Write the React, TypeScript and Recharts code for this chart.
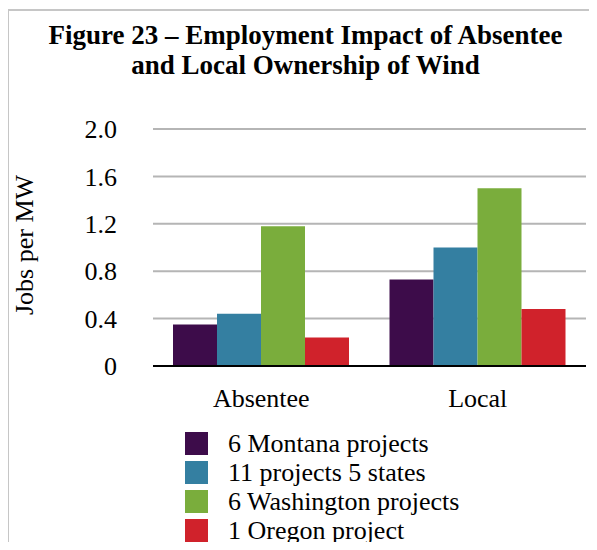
import { Bar, BarChart, CartesianGrid, Legend, XAxis, YAxis } from "recharts";

const categories = ["Absentee", "Local"];
const montana = [0.35, 0.73];
const fiveStates = [0.44, 1.0];
const washington = [1.18, 1.5];
const oregon = [0.24, 0.48];
const yTicks = [0, 0.4, 0.8, 1.2, 1.6, 2.0];

const series = [
  { key: "montana", name: "6 Montana projects", color: "#3d0c4a" },
  { key: "fiveStates", name: "11 projects 5 states", color: "#347fa1" },
  { key: "washington", name: "6 Washington projects", color: "#7aad3c" },
  { key: "oregon", name: "1 Oregon project", color: "#d0222b" },
];

const data = categories.map((c, i) => ({
  category: c,
  montana: montana[i],
  fiveStates: fiveStates[i],
  washington: washington[i],
  oregon: oregon[i],
}));

const FONT = '"Liberation Serif", "Times New Roman", serif';

function LegendBox({ payload }: any) {
  const order = series.map((s) => s.name);
  const items = [...(payload || [])].sort(
    (a: any, b: any) => order.indexOf(a.value) - order.indexOf(b.value)
  );
  return (
    <div style={{ fontFamily: FONT, fontSize: 26, color: "#000" }}>
      {items.map((p: any) => (
        <div
          key={p.value}
          style={{ display: "flex", alignItems: "center", height: 29, whiteSpace: "nowrap" }}
        >
          <span
            style={{ width: 23, height: 23, background: p.color, marginRight: 20, display: "inline-block" }}
          />
          <span>{p.value}</span>
        </div>
      ))}
    </div>
  );
}

function YLabel() {
  return (
    <text
      x={33}
      y={245}
      transform="rotate(-90 33 245)"
      textAnchor="middle"
      fontFamily={FONT}
      fontSize={26}
      fill="#000"
    >
      Jobs per MW
    </text>
  );
}

export default function App() {
  return (
    <div style={{ position: "relative", width: 597, height: 550, margin: -8, background: "#fff", overflow: "hidden" }}>
      <div
        style={{
          position: "absolute",
          left: 7,
          top: 9,
          width: 620,
          height: 600,
          borderLeft: "2px solid #c6c6c6",
          borderTop: "2px solid #c6c6c6",
        }}
      />
      <div
        style={{
          position: "absolute",
          left: 0,
          width: 611,
          top: 20,
          textAlign: "center",
          fontFamily: FONT,
          fontWeight: "bold",
          fontSize: 27,
          lineHeight: "30px",
        }}
      >
        Figure 23 – Employment Impact of Absentee
        <br />
        and Local Ownership of Wind
      </div>
      <div style={{ position: "absolute", left: 0, top: 0 }}>
        <BarChart
          width={597}
          height={550}
          data={data}
          margin={{ top: 129, right: 11, bottom: 154, left: 50 }}
          barCategoryGap={20}
          barGap={0}
        >
          <CartesianGrid vertical={false} stroke="#b5b5b5" strokeWidth={2} />
          <XAxis
            dataKey="category"
            height={30}
            tickLine={false}
            tickSize={0}
            tickMargin={23}
            axisLine={{ stroke: "#000", strokeWidth: 2 }}
            tick={{ fontFamily: FONT, fontSize: 26, fill: "#000" }}
          />
          <YAxis
            width={103}
            domain={[0, 2]}
            ticks={yTicks}
            interval={0}
            axisLine={false}
            tickLine={false}
            tickSize={0}
            tickMargin={36}
            tickFormatter={(v: number) => (v === 0 ? "0" : v.toFixed(1))}
            tick={{ fontFamily: FONT, fontSize: 26, fill: "#000" }}
            label={<YLabel />}
          />
          <Legend
            layout="vertical"
            align="center"
            verticalAlign="middle"
            content={<LegendBox />}
            wrapperStyle={{ top: 429, left: 185, width: 320 }}
          />
          {series.map((s) => (
            <Bar key={s.key} dataKey={s.key} name={s.name} fill={s.color} isAnimationActive={false} />
          ))}
        </BarChart>
      </div>
    </div>
  );
}
